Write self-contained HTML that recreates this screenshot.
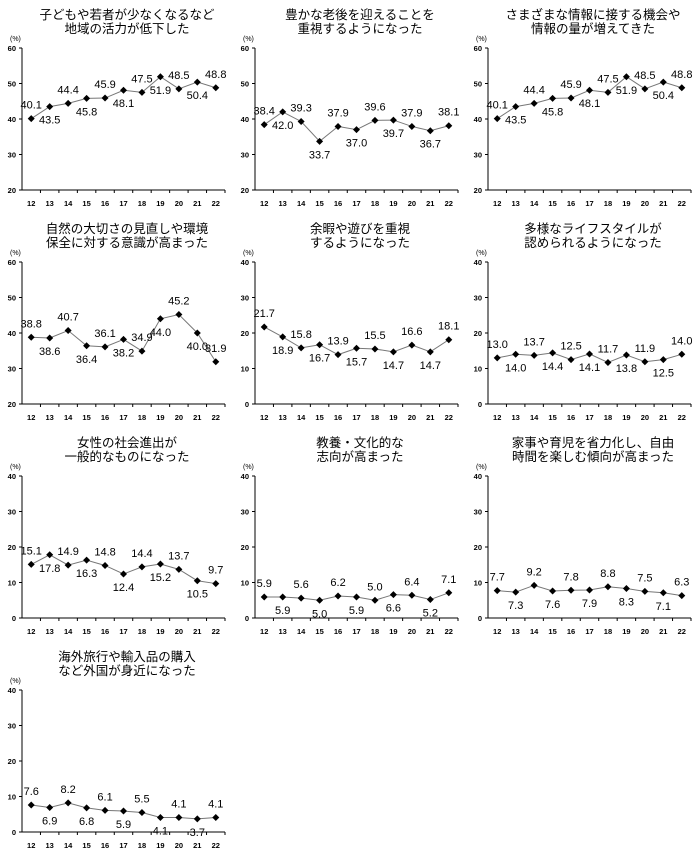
<!DOCTYPE html>
<html><head><meta charset="utf-8"><style>
body{margin:0;background:#fff}
svg{display:block;font-family:"Liberation Sans","Noto Sans CJK JP",sans-serif}
</style></head><body>
<svg id="chart" width="695" height="853" viewBox="0 0 695 853"></svg>
<script>
const categories = ["12","13","14","15","16","17","18","19","20","21","22"];
const values1 = [40.1,43.5,44.4,45.8,45.9,48.1,47.5,51.9,48.5,50.4,48.8];
const values2 = [38.4,42.0,39.3,33.7,37.9,37.0,39.6,39.7,37.9,36.7,38.1];
const values3 = [40.1,43.5,44.4,45.8,45.9,48.1,47.5,51.9,48.5,50.4,48.8];
const values4 = [38.8,38.6,40.7,36.4,36.1,38.2,34.9,44.0,45.2,40.0,31.9];
const values5 = [21.7,18.9,15.8,16.7,13.9,15.7,15.5,14.7,16.6,14.7,18.1];
const values6 = [13.0,14.0,13.7,14.4,12.5,14.1,11.7,13.8,11.9,12.5,14.0];
const values7 = [15.1,17.8,14.9,16.3,14.8,12.4,14.4,15.2,13.7,10.5,9.7];
const values8 = [5.9,5.9,5.6,5.0,6.2,5.9,5.0,6.6,6.4,5.2,7.1];
const values9 = [7.7,7.3,9.2,7.6,7.8,7.9,8.8,8.3,7.5,7.1,6.3];
const values10 = [7.6,6.9,8.2,6.8,6.1,5.9,5.5,4.1,4.1,3.7,4.1];
const ticksHigh = [20,30,40,50,60];
const ticksLow = [0,10,20,30,40];
const titles = [
 ["子どもや若者が少なくなるなど","地域の活力が低下した"],
 ["豊かな老後を迎えることを","重視するようになった"],
 ["さまざまな情報に接する機会や","情報の量が増えてきた"],
 ["自然の大切さの見直しや環境","保全に対する意識が高まった"],
 ["余暇や遊びを重視","するようになった"],
 ["多様なライフスタイルが","認められるようになった"],
 ["女性の社会進出が","一般的なものになった"],
 ["教養・文化的な","志向が高まった"],
 ["家事や育児を省力化し、自由","時間を楽しむ傾向が高まった"],
 ["海外旅行や輸入品の購入","など外国が身近になった"]
];
const series = [values1,values2,values3,values4,values5,values6,values7,values8,values9,values10];
const tickSets = [ticksHigh,ticksHigh,ticksHigh,ticksHigh,ticksLow,ticksLow,ticksLow,ticksLow,ticksLow,ticksLow];

const svg = document.getElementById('chart');
const NS = 'http://www.w3.org/2000/svg';
function mk(tag, attrs, parent){
  const e = document.createElementNS(NS, tag);
  for (const k in attrs) e.setAttribute(k, attrs[k]);
  parent.appendChild(e);
  return e;
}
series.forEach((vals, p) => {
  const col = p % 3, row = Math.floor(p / 3);
  const ox = col * 233, oy = row * 214;
  const ticks = tickSets[p];
  const yMin = ticks[0], yMax = ticks[ticks.length - 1];
  const top = oy + 48, bottom = oy + 190, left = ox + 22, right = ox + 225;
  const yScale = v => bottom - (v - yMin) / (yMax - yMin) * (bottom - top);
  const step = (right - left) / categories.length;
  const xScale = i => left + step * (i + 0.5);
  const g = mk('g', {}, svg);
  
  
  titles[p].forEach((t, k) => {
    const tx = mk('text', {x: ox + 127, y: oy + 19 + k * 14, 'font-size': 12.5, 'text-anchor': 'middle', fill: '#000'}, g);
    
    
    tx.textContent = t;
  });
  const u = mk('text', {x: ox + 10, y: oy + 41, 'font-size': 7, fill: '#000'}, g);
  
  
  u.textContent = '(%)';
  const ya = mk('line', {x1: left, y1: top, x2: left, y2: bottom, stroke: '#000', 'stroke-width': 1}, g);
  
  
  const xa = mk('line', {x1: left, y1: bottom, x2: right, y2: bottom, stroke: '#000', 'stroke-width': 1}, g);
  
  
  ticks.forEach(t => {
    const y = yScale(t);
    mk('line', {x1: left - 3, y1: y, x2: left, y2: y, stroke: '#000'}, g);
    const tl = mk('text', {x: left - 6, y: y + 3, 'font-size': 7.5, 'font-weight': 'bold', 'text-anchor': 'end', fill: '#000'}, g);
    
    
    tl.textContent = t;
  });
  categories.forEach((c, i) => {
    const bx = left + step * (i + 1);
    mk('line', {x1: bx, y1: bottom, x2: bx, y2: bottom + 3, stroke: '#000'}, g);
    const cl = mk('text', {x: xScale(i), y: bottom + 16, 'font-size': 7.5, 'font-weight': 'bold', 'text-anchor': 'middle', fill: '#000'}, g);
    
    
    cl.textContent = c;
  });
  const pts = vals.map((v, i) => xScale(i) + ',' + yScale(v)).join(' ');
  const line = mk('polyline', {points: pts, fill: 'none', stroke: '#777', 'stroke-width': 1}, g);
  
  
  vals.forEach((v, i) => {
    const x = xScale(i), y = yScale(v);
    const d = mk('polygon', {points: `${x},${y-3.5} ${x+3.5},${y} ${x},${y+3.5} ${x-3.5},${y}`, fill: '#000'}, g);
    
    
    const ly = i % 2 === 0 ? y - 10 : y + 17;
    const lb = mk('text', {x: x, y: ly, 'font-size': 11, 'text-anchor': 'middle', fill: '#000'}, g);
    
    
    lb.textContent = v.toFixed(1);
  });
});
</script>
</body></html>
